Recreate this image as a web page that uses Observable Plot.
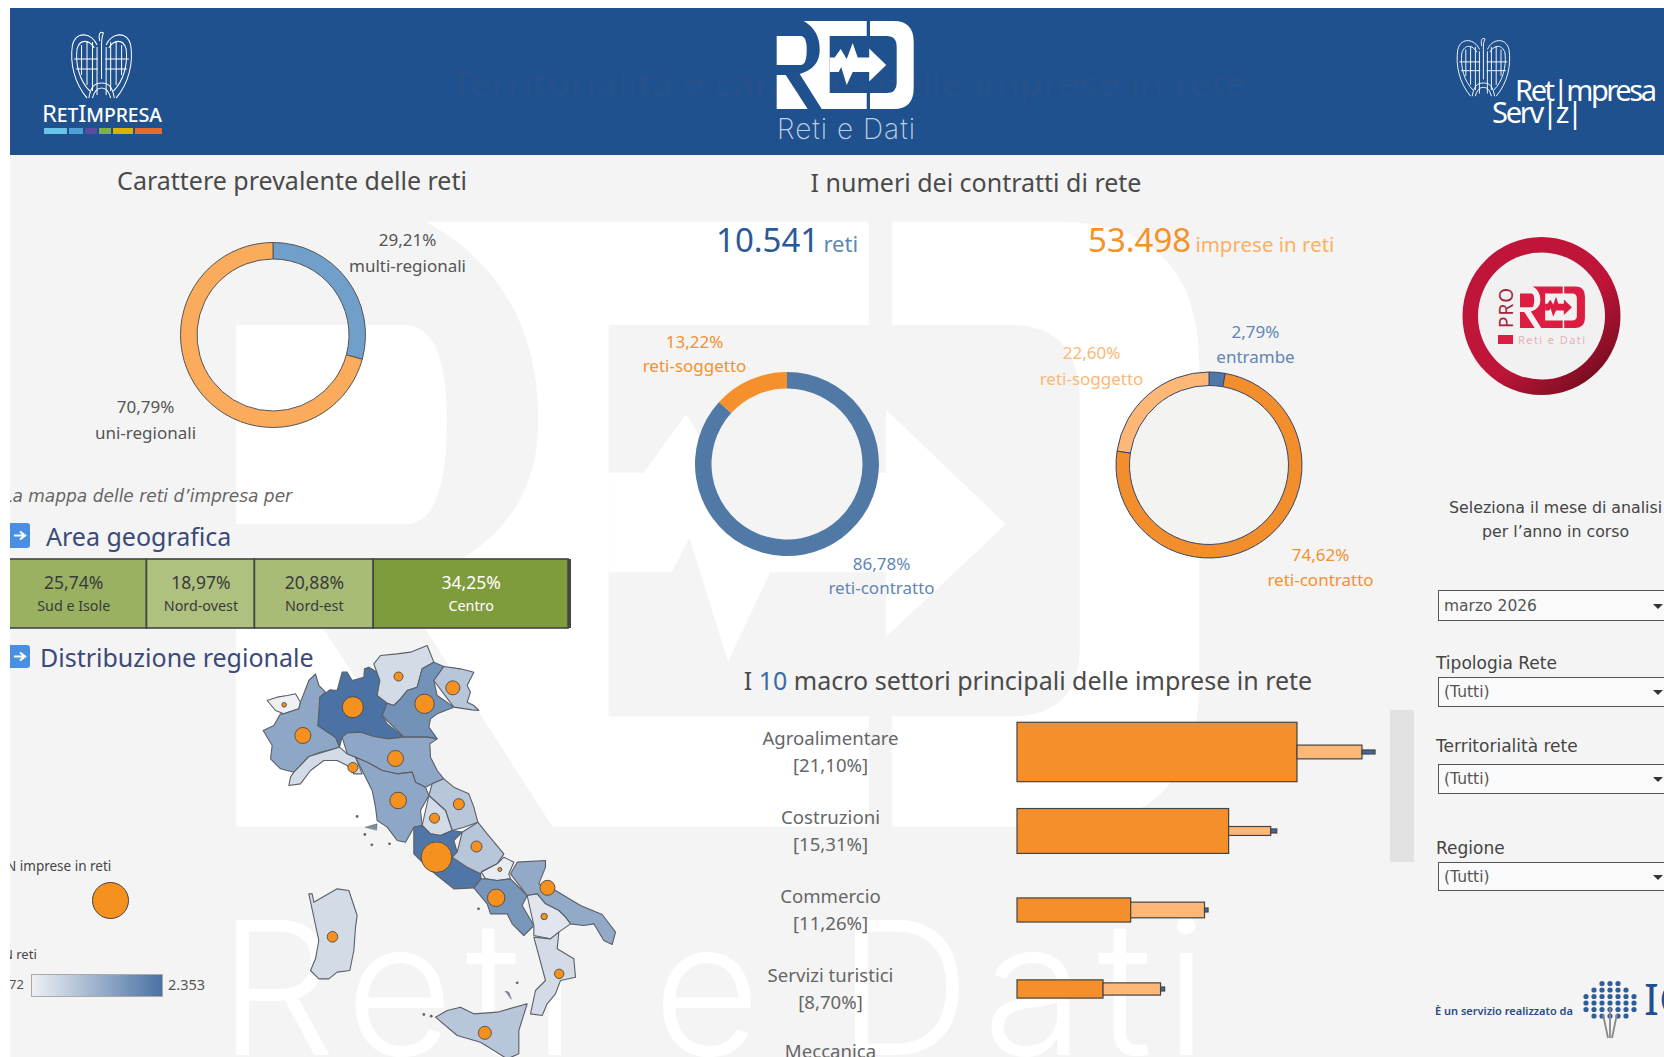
<!DOCTYPE html>
<html lang="it"><head><meta charset="utf-8">
<script src="https://cdn.jsdelivr.net/npm/d3@7"></script>
<script src="https://cdn.jsdelivr.net/npm/@observablehq/plot@0.6"></script>
<style>
html,body{margin:0;padding:0;background:#fff;overflow:hidden;width:1664px;height:1057px}
#dash{position:absolute;left:10px;top:8px;width:1654px;height:1049px;background:#f4f4f4;overflow:hidden;font-family:"Noto Sans",sans-serif}
.t{position:absolute;white-space:nowrap;line-height:1}
.c{transform:translate(-50%,-50%)}
.l{transform:translateY(-50%)}
.sel{position:absolute;left:1428px;width:240px;background:#fafafa;border:1.5px solid #555;box-sizing:border-box;font:15.5px "DejaVu Sans",sans-serif;color:#555;padding-left:5px;display:flex;align-items:center}
.arr{position:absolute;width:0;height:0;border-left:5px solid transparent;border-right:5px solid transparent;border-top:5px solid #333}
</style></head><body><div id="dash"></div>
<script>
// ---------- data ----------
const caratNames=["multi-regionali","uni-regionali"], caratShares=[29.21,70.79];
const retiNames=["reti-contratto","reti-soggetto"], retiShares=[86.78,13.22];
const impNames=["entrambe","reti-contratto","reti-soggetto"], impShares=[2.79,74.62,22.60];
const areaNames=["Sud e Isole","Nord-ovest","Nord-est","Centro"], areaShares=[25.74,18.97,20.88,34.25];
const sectorNames=["Agroalimentare","Costruzioni","Commercio","Servizi turistici"];
const sectorTotals=["[21,10%]","[15,31%]","[11,26%]","[8,70%]"];
const sectorContratto=[16.5,12.47,6.70,5.07], sectorSoggetto=[3.83,2.48,4.35,3.39], sectorEntrambe=[0.77,0.36,0.21,0.24];
const regionNames=["Valle d'Aosta","Piemonte","Lombardia","Trentino-Alto Adige","Veneto","Friuli-Venezia Giulia","Liguria","Emilia-Romagna","Toscana","Marche","Umbria","Lazio","Abruzzo","Molise","Campania","Puglia","Basilicata","Calabria","Sicilia","Sardegna"];
const regionReti=[72,1395,2353,460,1780,825,460,1395,1395,825,460,2285,825,140,1715,1350,250,460,825,460];
const regionImprese=[295,3564,6140,1128,5240,2729,1392,3564,3836,1685,1392,13000,1685,223,4215,3132,570,1230,2353,1564];
const regionCentre=[[131,223],[187,315],[337,230],[474,138],[552,220],[637,172],[337,411],[465,384],[473,510],[655,521],[582,563],[588,680],[708,648],[778,717],[767,802],[921,772],[911,858],[956,1030],[733,1207],[276,919]];
const regionOutline=[
[[80,210],[110,200],[140,195],[165,190],[180,215],[175,235],[130,250],[105,240],[95,225]],
[[205,150],[225,130],[235,165],[255,185],[238,200],[255,245],[232,285],[285,320],[297,350],[240,365],[205,378],[175,410],[160,425],[120,415],[90,385],[95,345],[68,300],[100,285],[120,250],[130,250],[175,235],[180,215],[205,180]],
[[238,200],[268,178],[290,180],[305,125],[320,125],[335,150],[370,140],[372,115],[385,110],[410,125],[418,150],[410,195],[440,218],[425,255],[440,280],[490,320],[440,325],[400,318],[360,305],[320,307],[305,320],[297,350],[285,320],[232,285],[255,245]],
[[400,100],[420,75],[470,70],[510,65],[560,45],[580,95],[545,115],[530,170],[500,180],[480,205],[460,225],[440,218],[410,195],[418,150],[410,125]],
[[425,255],[440,218],[460,225],[480,205],[500,180],[530,170],[545,115],[580,95],[610,108],[580,150],[590,195],[640,230],[590,250],[570,265],[565,290],[590,325],[560,320],[490,320],[440,280]],
[[580,150],[610,108],[660,115],[700,125],[680,165],[690,185],[680,215],[700,225],[715,240],[695,238],[640,230],[590,195]],
[[297,350],[303,355],[320,370],[345,380],[365,430],[340,430],[320,405],[290,390],[250,390],[210,420],[180,460],[145,465],[150,440],[160,425],[175,410],[205,378],[240,365]],
[[305,320],[320,307],[360,305],[400,318],[440,325],[490,320],[560,320],[590,325],[568,340],[570,380],[590,420],[610,445],[575,460],[555,470],[525,455],[515,425],[470,430],[425,420],[380,395],[345,380],[320,370],[303,355]],
[[345,380],[380,395],[425,420],[470,430],[515,425],[525,455],[555,470],[565,495],[540,540],[545,585],[520,590],[495,635],[470,630],[440,590],[410,570],[405,530],[395,480],[365,430]],
[[575,460],[610,445],[640,470],[685,490],[700,530],[712,575],[670,590],[635,600],[615,540],[565,495],[555,470]],
[[565,495],[615,540],[635,600],[600,615],[570,610],[545,585],[540,540]],
[[520,590],[545,585],[570,610],[600,615],[635,600],[665,605],[640,630],[650,665],[635,680],[680,710],[720,730],[722,745],[700,772],[640,775],[590,735],[560,710],[520,670],[495,635]],
[[665,605],[712,575],[740,610],[790,670],[770,700],[725,722],[720,730],[680,710],[635,680],[650,665],[640,630]],
[[722,725],[770,700],[790,680],[820,695],[805,730],[810,745],[770,750],[735,745],[722,745]],
[[700,772],[722,745],[735,745],[770,750],[810,745],[860,795],[845,825],[880,885],[850,915],[815,880],[800,850],[750,850],[740,820],[710,790]],
[[810,730],[830,695],[915,690],[915,710],[895,760],[945,780],[1020,825],[1085,852],[1125,905],[1115,942],[1090,930],[1060,880],[1030,885],[990,880],[975,860],[955,840],[915,820],[890,790],[860,795],[810,745]],
[[860,795],[890,790],[915,820],[955,840],[975,860],[990,880],[955,905],[930,925],[880,915],[880,885],[845,825]],
[[880,920],[930,925],[955,905],[950,955],[1000,985],[1005,1040],[960,1050],[945,1090],[920,1120],[905,1155],[870,1150],[885,1080],[915,1050],[890,970]],
[[585,1160],[620,1140],[660,1130],[700,1150],[770,1145],[860,1120],[835,1200],[835,1270],[800,1285],[720,1235],[650,1215],[600,1190]],
[[205,790],[215,790],[220,815],[290,775],[325,780],[335,810],[350,855],[345,890],[340,960],[328,1020],[290,1025],[265,1045],[235,1045],[210,1020],[225,985],[235,930],[200,850]]
];
const isletOutline=[[[375,590],[410,580],[408,598],[378,596]],[[795,1082],[805,1085],[812,1105],[803,1105]]];
const isletPoints=[[350,558],[373,612],[394,643],[447,640],[714,835],[830,1057],[550,1152],[572,1157]];

// ---------- helpers ----------
const dash=document.getElementById("dash");
const at=(x,y)=>({position:"absolute",left:(x-10)+"px",top:(y-8)+"px",background:"transparent",overflow:"visible"});
function text(str,x,y,css,cls="c"){const d=document.createElement("div");d.className="t "+cls;d.innerHTML=str;d.style.left=(x-10)+"px";d.style.top=(y-8)+"px";d.style.cssText+=";"+css;dash.appendChild(d);return d;}

// ---------- decoration (logos and watermark) ----------
const redGlyph=`<path d="M0 16H24Q30 16 30 30Q30 45 24 45H0Z"/><path d="M0 55H9L31 89H0Z"/><path d="M27 1H90V16H53V73H90V89H45L23 54Q43 48 43 30Q43 10 27 1Z"/><path d="M93.3 1H117Q137 1 137 22V68Q137 89 117 89H93.3V73H110Q120 73 120 63V27Q120 16 110 16H93.3Z"/><path d="M53 37.5H58L64 29L70 39L76 23L81 37.5H92.5V28.4L109.5 45L92.5 61.4V52H76L70 65L64.5 47L62 52H53Z"/>`;
const wing=`<path d="M33 12C28 0 10-3 6 12C3 30 8 50 22 65"/><path d="M30 15C24 6 14 6 11 16C9 32 14 48 25 58"/><path d="M16 12V42M22 8V52M28 9V58M33 14V62"/><path d="M8 26H34M10 36H34"/><path d="M24 65C26 54 30 50 38 50"/><path d="M28 65C30 58 33 55 38 55"/>`;
const eagle=`<g fill="none" stroke="#fff" stroke-width="1.1">${wing}<path d="M36 8C34 0 37-2 40 0C38 4 38 6 38 12V46"/><g transform="translate(76,0) scale(-1,1)">${wing}</g></g>`;
const stripes=[["#69c4e8",44,23],["#4ea0d6",69,14],["#5a4aa0",85,12],["#7cb342",99,12],["#e0b000",113,20],["#e8692a",135,27]];
const tree=d3.cross(d3.range(-3,4),d3.range(-3,3)).filter(([a,b])=>a*a+b*b<13).map(([a,b])=>`<circle cx="${a*8}" cy="${b*6.5}" r="2.6"/>`).join("");
const deco=document.createElementNS("http://www.w3.org/2000/svg","svg");
deco.setAttribute("width",1664);deco.setAttribute("height",1057);
Object.assign(deco.style,{position:"absolute",left:"-10px",top:"-8px"});
deco.innerHTML=`
<g fill="#fff" transform="translate(236,215) scale(7.03,6.87)">${redGlyph}</g>
<text x="218" y="1055" fill="#fff" font-family="Inter" font-weight="300" font-size="186" textLength="990" lengthAdjust="spacing">Reti e Dati</text>
<rect x="10" y="8" width="1654" height="147" fill="#1f518e"/>
<text x="451" y="96" fill="#26518b" font-family="Noto Sans" font-size="33" textLength="795" lengthAdjust="spacingAndGlyphs">Territorialità e caratteri delle imprese in rete</text>
<g fill="#fff" transform="translate(776.7,20)">${redGlyph}</g>
<text x="777" y="139" fill="#bfcfe2" font-family="Inter" font-weight="200" font-size="28" textLength="138">Reti e Dati</text>
<g transform="translate(67,33) scale(.91,1)">${eagle}</g>
<text x="102" y="122" text-anchor="middle" fill="#fff" font-family="Noto Sans" font-size="24" style="font-variant:small-caps" textLength="120">RetImpresa</text>
${stripes.map(([c,x,w])=>`<rect x="${x}" y="128" width="${w}" height="6" fill="${c}"/>`).join("")}
<g transform="translate(1453,39) scale(.8,.88)">${eagle}</g>
<text x="1515" y="101" fill="#fff" font-family="Noto Sans" font-size="29" textLength="142">Ret|mpresa</text>
<text x="1492" y="123" fill="#fff" font-family="Noto Sans" font-size="29" textLength="91">Serv|z|</text>
<defs><linearGradient id="ringG" x1=".15" y1=".1" x2=".9" y2=".95"><stop offset=".55" stop-color="#bf1539"/><stop offset=".85" stop-color="#8a0f26"/><stop offset="1" stop-color="#5e0a18"/></linearGradient></defs>
<circle cx="1541.5" cy="316" r="79" fill="url(#ringG)"/><circle cx="1541.5" cy="316" r="63.5" fill="#f1f1f1"/>
<g fill="#dc1c40" transform="translate(1520,286) scale(.474,.472)">${redGlyph}</g>
<text transform="translate(1512.5,328) rotate(-90)" fill="#a8243c" font-family="Noto Sans" font-size="19" textLength="40">PRO</text>
<rect x="1498" y="335" width="15" height="9" fill="#dc1c40"/>
<text x="1518" y="344" fill="#e8b0b8" font-family="Noto Sans" font-size="11" textLength="67">Reti e Dati</text>
<g transform="translate(1610,1003)" fill="#2f5c9a">${tree}</g>
<path d="M1610 1008V1038M1603 1014L1608 1038M1617 1014L1612 1038" stroke="#888" stroke-width="1.8" fill="none"/>
<text x="1644" y="1015" fill="#1f4f8f" font-family="Noto Sans" font-size="44">IC</text>
<rect x="1390" y="710" width="24" height="152" fill="#e2e2e2"/>
${[[523,548],[645,668]].map(([a,b])=>`<rect x="4" y="${a}" width="26" height="${b-a}" rx="3" fill="#4a90e2"/><path d="M14 ${(a+b)/2}H25M20 ${(a+b)/2-4}L25 ${(a+b)/2}L20 ${(a+b)/2+4}" stroke="#fff" stroke-width="2.2" fill="none"/>`).join("")}`;
dash.appendChild(deco);

// ---------- donuts ----------
function donut({names,shares,colors,textColors,labels,offsets,x,y,outer,inner,stroke,hole,lineHeight}){
  const rows=names.map((name,i)=>({name,share:shares[i],label:labels[i],tc:textColors[i],dx:offsets[i][0],dy:offsets[i][1]}));
  const W=420,H=320;
  const ring=(I,s,v,dim)=>{
    const g=d3.create("svg:g").attr("transform",`translate(${dim.width/2},${dim.height/2})`);
    if(hole) g.append("circle").attr("r",inner).attr("fill",hole);
    const arc=d3.arc().innerRadius(inner).outerRadius(outer);
    d3.pie().sort(null).value(d=>d.share)(rows).forEach((p,i)=>{
      g.append("path").attr("d",arc(p)).attr("fill",v.fill[i]).attr("stroke",stroke||"none").attr("stroke-width",stroke?1:0);
    });
    return g.node();
  };
  dash.appendChild(Plot.plot({width:W,height:H,margin:0,axis:null,style:at(x-W/2,y-H/2),
    color:{type:"ordinal",domain:names,range:colors},
    marks:[
      Plot.dot(rows,{frameAnchor:"middle",fill:"name",r:outer,render:ring}),
      ...rows.map(r=>Plot.text([r],{frameAnchor:"middle",text:"label",dx:r.dx,dy:r.dy,fill:r.tc,fontSize:17,lineHeight,fontFamily:"Noto Sans"}))
    ]}));
}
donut({names:caratNames,shares:caratShares,colors:["#709fca","#fbab5c"],textColors:["#555","#555"],lineHeight:1.56,
  labels:["29,21%\nmulti-regionali","70,79%\nuni-regionali"],offsets:[[134,-85],[-128,82]],x:272.7,y:335.3,outer:92.5,inner:76,stroke:"#555"});
donut({names:retiNames,shares:retiShares,colors:["#5079a6","#f5912c"],textColors:["#5f86b3","#f5912c"],lineHeight:1.37,
  labels:["86,78%\nreti-contratto","13,22%\nreti-soggetto"],offsets:[[94,110],[-93,-112]],x:787,y:464,outer:92,inner:75.5,hole:"#f4f4f4"});
donut({names:impNames,shares:impShares,colors:["#4e79a7","#f28e2b","#fdb878"],textColors:["#5f86b3","#f5912c","#fbb878"],lineHeight:1.5,
  labels:["2,79%\nentrambe","74,62%\nreti-contratto","22,60%\nreti-soggetto"],offsets:[[46,-123],[111,100],[-118,-101.5]],x:1209,y:465,outer:93,inner:79.5,stroke:"#3c4468",hole:"#f3f3f2"});

// ---------- area geografica ----------
const areaRows=areaNames.map((name,i)=>({name,share:areaShares[i],pct:areaShares[i].toFixed(2).replace(".",",")+"%"}));
dash.appendChild(Plot.plot({width:569,height:69,margin:0,axis:null,style:at(0.3,559),
  x:{domain:[0,100],range:[0,569]},y:{axis:null},
  color:{type:"linear",domain:[18.97,34.25],range:["#afc17f","#7f9c3d"]},
  marks:[
    Plot.barX(areaRows,Plot.stackX({x:"share",fill:"share",stroke:"#444",strokeWidth:1.6,order:null})),
    Plot.ruleX([100],{stroke:"#444",strokeWidth:3}),
    Plot.text(areaRows,Plot.stackX({x:"share",text:"pct",frameAnchor:"middle",dy:-11,fontSize:17.5,fontFamily:"Noto Sans",order:null,fill:d=>d.share>30?"#fff":"#3a3a3a"})),
    Plot.text(areaRows,Plot.stackX({x:"share",text:"name",frameAnchor:"middle",dy:12,fontSize:14.3,fontFamily:"Noto Sans",order:null,fill:d=>d.share>30?"#fff":"#3a3a3a"}))
  ]}));

// ---------- map ----------
const toPage=d3.geoTransform({point(x,y){this.stream.point(x/3,y/3);}});
const regionFeatures=regionNames.map((name,i)=>({type:"Feature",properties:{name,reti:regionReti[i]},geometry:{type:"Polygon",coordinates:[regionOutline[i]]}}));
const isletFeatures=isletOutline.map(c=>({type:"Feature",properties:{},geometry:{type:"Polygon",coordinates:[c]}}));
const regionDots=regionNames.map((name,i)=>({name,imprese:regionImprese[i],x:regionCentre[i][0],y:regionCentre[i][1]}));
const islets=isletPoints.map(([x,y])=>({x,y}));
const retiLow="#eef0f4",retiHigh="#4a72a4";
dash.appendChild(Plot.plot({width:400,height:440,margin:0,axis:null,style:at(240,630),projection:toPage,
  color:{type:"linear",domain:[72,2353],range:[retiLow,retiHigh]},
  r:{type:"sqrt",domain:[0,13000],range:[0,15.3]},
  marks:[
    Plot.geo(isletFeatures,{fill:"#7a8ea8",stroke:"#666",strokeWidth:0.6}),
    Plot.dot(islets,{x:"x",y:"y",r:1.4,fill:"#666"}),
    Plot.geo(regionFeatures,{fill:d=>d.properties.reti,stroke:"#5a5f66",strokeWidth:1.1,strokeLinejoin:"round"}),
    Plot.dot(regionDots,{x:"x",y:"y",r:"imprese",fill:"#f5921f",stroke:"#4a4a4a",strokeWidth:0.9})
  ]}));

// ---------- map legends ----------
text("N imprese in reti",6,867,"font-size:13.5px;color:#444","l");
dash.appendChild(Plot.plot({width:60,height:60,margin:0,axis:null,style:at(80,870),
  marks:[Plot.dot([0],{frameAnchor:"middle",r:18,fill:"#f5921f",stroke:"#444",strokeWidth:1})]}));
text("N reti",3,954,"font-size:13px;color:#444","l");
text("72",9,984,"font-size:13px;color:#555","l");
text("2.353",168,984,"font-size:14.5px;color:#555","l");
const ramp=document.createElement("div");
ramp.style.cssText=`position:absolute;left:21px;top:966px;width:132px;height:23px;box-sizing:border-box;border:1.5px solid #aaa;background:linear-gradient(90deg,${retiLow},${retiHigh})`;
dash.appendChild(ramp);

// ---------- sectors ----------
const segNames=["reti-contratto","reti-soggetto","entrambe"];
const segRows=sectorNames.flatMap((name,i)=>{
  const vals=[sectorContratto[i],sectorSoggetto[i],sectorEntrambe[i]];let c=0;
  return vals.map((v,j)=>{const half=Math.max(v*1.8,2);const r={name,seg:segNames[j],x1:c,x2:c+v,y1:i-half/79,y2:i+half/79};c+=v;return r;});
});
const sectorLabels=[...sectorNames.map((n,i)=>({t:n+"\n"+sectorTotals[i],i})),{t:"Meccanica",i:4-0.21}];
dash.appendChild(Plot.plot({width:647,height:357,marginLeft:297,marginRight:0,marginTop:0,marginBottom:0,axis:null,style:at(720,700),
  x:{domain:[0,20.39],range:[297,643]},
  y:{domain:[-0.658,3.861],range:[0,357]},
  color:{type:"ordinal",domain:segNames,range:["#f58f2b","#fdb878","#3f6a9a"]},
  marks:[
    Plot.rect(segRows,{x1:"x1",x2:"x2",y1:"y1",y2:"y2",fill:"seg",stroke:"#444",strokeWidth:1.2}),
    Plot.text(sectorLabels,{x:()=>0,y:"i",text:"t",dx:-187,dy:-3,fontSize:18.6,lineHeight:1.48,fill:"#666",fontFamily:"Noto Sans"})
  ]}));

// ---------- titles ----------
const T="font-size:25px;color:#4a4a4a";
text("Carattere prevalente delle reti",292,179.5,T);
text("I numeri dei contratti di rete",976,181.5,T);
text('I <span style="color:#3a6ba5">10</span> macro settori principali delle imprese in rete',1028,680,T);
text("La mappa delle reti d’impresa per",3,495.5,'font-family:"DejaVu Sans";font-size:17px;font-style:italic;color:#666',"l");
text("Area geografica",46,536,"font-size:25px;color:#3b4a78","l");
text("Distribuzione regionale",40,657,"font-size:25px;color:#3b4a78","l");
text('<span style="font-size:33px;color:#2a5a96">10.541</span> <span style="font-size:22px;color:#5f86b3">reti</span>',716,238.5,"","l");
text('<span style="font-size:33px;color:#f5922a">53.498</span> <span style="font-size:20.5px;color:#fbb062">imprese in reti</span>',1088,238.5,"","l");

// ---------- filters ----------
const F='font-family:"DejaVu Sans";color:#444;';
text("Seleziona il mese di analisi",1555.6,508,F+"font-size:15.8px");
text("per l’anno in corso",1555.6,531.5,F+"font-size:15.8px");
const filters=[["marzo 2026",null,590,31,0],["(Tutti)","Tipologia Rete",677,30,663],["(Tutti)","Territorialità rete",764,30,746],["(Tutti)","Regione",862,29,848]];
filters.forEach(([v,lab,top,h,ly])=>{
  const s=document.createElement("div");s.className="sel";s.textContent=v;s.style.top=(top-8)+"px";s.style.height=h+"px";dash.appendChild(s);
  const a=document.createElement("div");a.className="arr";a.style.left="1643px";a.style.top=(top-8+h/2-2)+"px";dash.appendChild(a);
  if(lab) text(lab,1436,ly,F+"font-size:17px","l");
});
text("È un servizio realizzato da",1435,1010,'font-family:"Noto Sans";font-size:11px;font-weight:600;color:#2a4a8a',"l");
</script></body></html>
